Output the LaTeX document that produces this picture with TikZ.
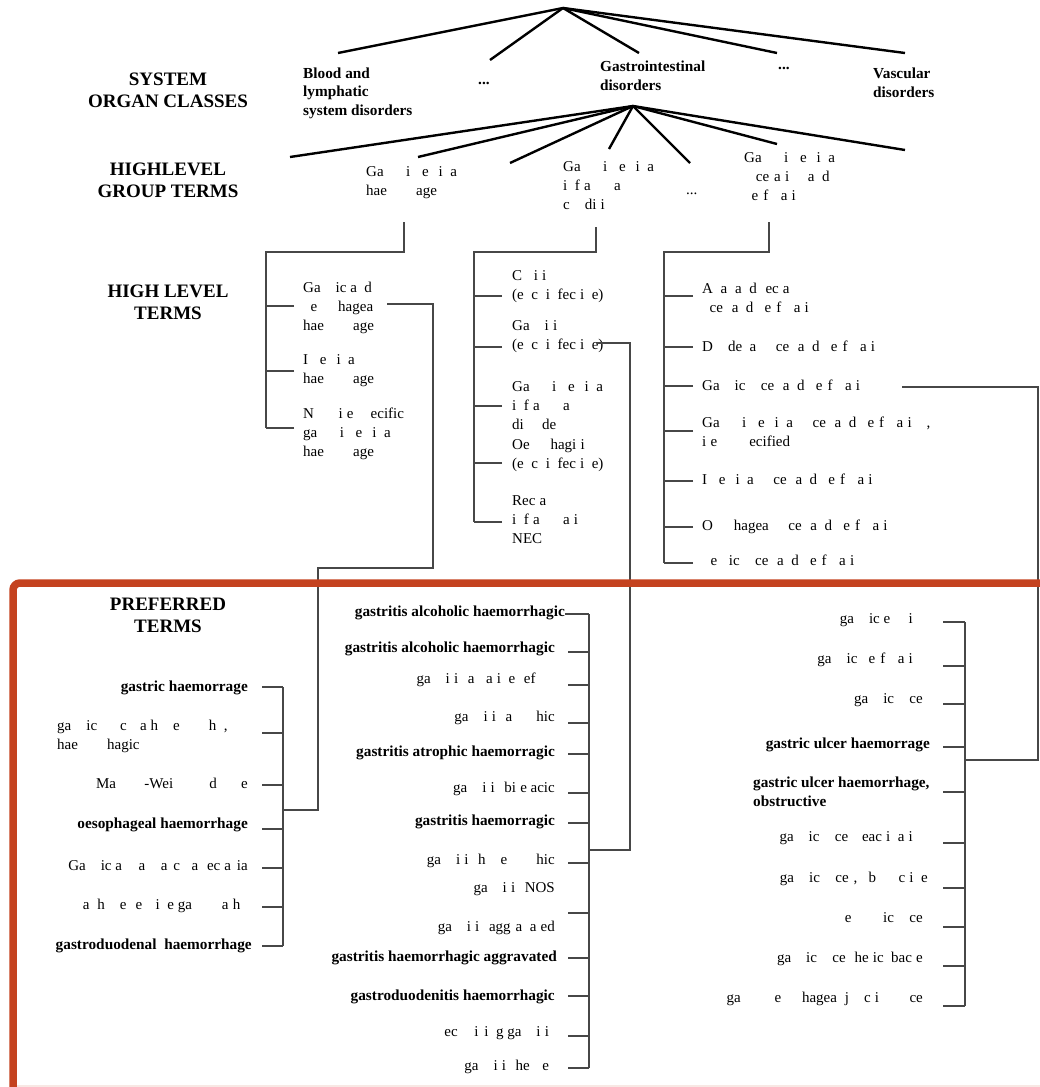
\documentclass[tikz,border=0pt]{standalone}
\usepackage{fontspec}
\setmainfont{Liberation Serif}
\usetikzlibrary{calc}

\definecolor{framered}{RGB}{196,66,31}
% letters that are left blank in a term
\newcommand\hid[1]{\phantom{#1}}

\tikzset{
  head/.style={font=\bfseries\fontsize{19}{22}\selectfont, align=center},
  soc/.style={font=\bfseries\fontsize{15.3}{18.5}\selectfont, align=left, anchor=west, inner sep=0pt},
  term/.style={font=\fontsize{15}{19}\selectfont, align=left, anchor=west, inner sep=0pt},
  pt/.style={font=\fontsize{15}{19}\selectfont, anchor=east, inner sep=0pt},
  ptb/.style={font=\bfseries\fontsize{15.3}{18}\selectfont, anchor=east, inner sep=0pt},
  fan/.style={line width=2.4pt},
  tree/.style={line width=1.1pt, draw=black!72},
}

\begin{document}
\begin{tikzpicture}[x=1pt,y=-1pt]
  \useasboundingbox (0,0) rectangle (1040,1087);

  % level headings
  \node[head] (hsoc) at (168,90) {SYSTEM\\ORGAN CLASSES};
  \node[head] (hhlgt) at (168,180) {HIGHLEVEL\\GROUP TERMS};
  \node[head] (hhlt) at (168,302) {HIGH LEVEL\\TERMS};
  \node[head] (hpt) at (168,615) {PREFERRED\\TERMS};

  % system organ classes
  \node[soc] (soc1) at (303,93) {Blood and\\lymphatic\\system disorders};
  \node[soc] (socd1) at (478,83) {...};
  \node[soc] (soc2) at (600,76) {Gastrointestinal\\disorders};
  \node[soc] (socd2) at (778,68) {...};
  \node[soc] (soc3) at (873,83) {Vascular\\disorders};

  \coordinate (top) at (563,8);
  \coordinate (so1) at (338,53);
  \coordinate (so2) at (490,60);
  \coordinate (so3) at (639,53);
  \coordinate (so4) at (777,53);
  \coordinate (so5) at (905,53);
  \foreach \c in {so1,so2,so3,so4,so5}
    \draw[fan] (top) -- (\c);

  % high level group terms
  \node[term] (g1) at (366,182) {Ga\hid{stro}i\hid{nt}e\hid{st}i\hid{n}a\hid{l}\\hae\hid{morr}age};
  \node[term] (g2) at (563,185) {Ga\hid{stro}i\hid{nt}e\hid{st}i\hid{n}a\hid{l}\\i\hid{n}f\hid{l}a\hid{mm}a\hid{tory}\\c\hid{on}di\hid{t}i\hid{ons}};
  \node[term] (gd) at (686,194) {...};
  \node[term] (g3) at (744,178) {Ga\hid{stro}i\hid{nt}e\hid{st}i\hid{n}a\hid{l}\\\hid{ul}ce\hid{r}a\hid{t}i\hid{on} a\hid{n}d\\\hid{p}e\hid{r}f\hid{or}a\hid{t}i\hid{on}};

  \coordinate (gi) at (633,106);
  \coordinate (hg1) at (290,157);
  \coordinate (hg2) at (418,157);
  \coordinate (hg3) at (510,163);
  \coordinate (hg4) at (609,149);
  \coordinate (hg5) at (690,163);
  \coordinate (hg6) at (777,144);
  \coordinate (hg7) at (905,150);
  \foreach \c in {hg1,hg2,hg3,hg4,hg5,hg6,hg7}
    \draw[fan] (gi) -- (\c);

  % high level terms
  \node[term] (h11) at (303,308) {Ga\hid{str}ic a\hid{n}d\\\hid{o}e\hid{sop}hagea\hid{l}\\hae\hid{morr}age};
  \node[term] (h12) at (303,370) {I\hid{nt}e\hid{st}i\hid{n}a\hid{l}\\hae\hid{morr}age};
  \node[term] (h13) at (303,434) {N\hid{on s}i\hid{t}e \hid{sp}ecific\\ga\hid{stro}i\hid{nt}e\hid{st}i\hid{n}a\hid{l}\\hae\hid{morr}age};

  \node[term] (h21) at (512,286) {C\hid{ol}i\hid{t}i\hid{s}\\(e\hid{x}c\hid{l} i\hid{n}fec\hid{t}i\hid{v}e)};
  \node[term] (h22) at (512,337) {Ga\hid{str}i\hid{t}i\hid{s}\\(e\hid{x}c\hid{l} i\hid{n}fec\hid{t}i\hid{v}e)};
  \node[term] (h23) at (512,405) {Ga\hid{stro}i\hid{nt}e\hid{st}i\hid{n}a\hid{l}\\i\hid{n}f\hid{l}a\hid{mm}a\hid{tory}\\di\hid{sor}de\hid{rs}};
  \node[term] (h24) at (512,455) {Oe\hid{sop}hagi\hid{t}i\hid{s}\\(e\hid{x}c\hid{l} i\hid{n}fec\hid{t}i\hid{v}e)};
  \node[term] (h25) at (512,519) {Rec\hid{t}a\hid{l}\\i\hid{n}f\hid{l}a\hid{mm}a\hid{t}i\hid{ons}\\NEC};

  \node[term] (h31) at (702,299) {A\hid{n}a\hid{l} a\hid{n}d \hid{r}ec\hid{t}a\hid{l}\\\hid{u}ce\hid{r} a\hid{n}d \hid{p}e\hid{r}f\hid{or}a\hid{t}i\hid{on}};
  \node[term] (h32) at (702,348) {D\hid{uo}de\hid{n}a\hid{l} \hid{ul}ce\hid{r} a\hid{n}d \hid{p}e\hid{r}f\hid{or}a\hid{t}i\hid{on}};
  \node[term] (h33) at (702,387) {Ga\hid{str}ic \hid{ul}ce\hid{r} a\hid{n}d \hid{p}e\hid{r}f\hid{or}a\hid{t}i\hid{on}};
  \node[term] (h34) at (702,433) {Ga\hid{stro}i\hid{nt}e\hid{st}i\hid{n}a\hid{l} \hid{ul}ce\hid{r} a\hid{n}d \hid{p}e\hid{r}f\hid{or}a\hid{t}i\hid{on},\\i\hid{t}e \hid{unsp}ecified};
  \node[term] (h35) at (702,481) {I\hid{nt}e\hid{st}i\hid{n}a\hid{l} \hid{ul}ce\hid{r} a\hid{n}d \hid{p}e\hid{r}f\hid{or}a\hid{t}i\hid{on}};
  \node[term] (h36) at (702,527) {O\hid{sop}hagea\hid{l} \hid{ul}ce\hid{r} a\hid{n}d \hid{p}e\hid{r}f\hid{or}a\hid{t}i\hid{on}};
  \node[term] (h37) at (702,562) {\hid{P}e\hid{pt}ic \hid{ul}ce\hid{r} a\hid{n}d \hid{p}e\hid{r}f\hid{or}a\hid{t}i\hid{on}};

  \draw[tree] (404,222) -- (404,252) -- (266,252) -- (266,428);
  \draw[tree] (596,227) -- (596,252) -- (474,252) -- (474,522);
  \draw[tree] (769,222) -- (769,252) -- (664,252) -- (664,563);
  \foreach \n/\d in {h11/-2,h12/1,h13/-6}
    \draw[tree] (\n.west) ++(-9,\d) -- ++(-28,0);
  \foreach \n/\d in {h21/10,h22/10,h23/1,h24/8,h25/3}
    \draw[tree] (\n.west) ++(-10,\d) -- ++(-28,0);
  \foreach \n/\d in {h31/-3,h32/-1,h33/-1,h34/-2,h35/0,h36/0,h37/1}
    \draw[tree] (\n.west) ++(-9,\d) -- ++(-29,0);

  % preferred terms
  \node[ptb] (p1) at (248,688) {gastric haemorrage};
  \node[term] (p2) at (57,736) {ga\hid{str}ic \hid{mu}c\hid{os}a h\hid{yp}e\hid{rtrop}h\hid{y},\\hae\hid{morr}hagic};
  \node[pt] (p3) at (248,785) {Ma\hid{llory}-Wei\hid{ss} \hid{syn}d\hid{rom}e};
  \node[ptb] (p4) at (248,825) {oesophageal haemorrhage};
  \node[pt] (p5) at (248,865) {Ga\hid{str}ic a\hid{ntr}a\hid{l} \hid{v}a\hid{s}c\hid{ul}a\hid{r} ec\hid{t}a\hid{s}ia};
  \node[pt] (p6) at (248,906) {\hid{Port}a\hid{l} h\hid{yp}e\hid{rt}e\hid{ns}i\hid{v}e ga\hid{strop}a\hid{t}h\hid{y}};
  \node[ptb] (p7) at (252,946) {gastroduodenal~ haemorrhage};

  \node[ptb] (m1) at (565,613) {gastritis alcoholic haemorrhagic};
  \node[ptb] (m2) at (555,649) {gastritis alcoholic haemorrhagic};
  \node[pt] (m3) at (555,680) {ga\hid{str}i\hid{t}i\hid{s} a\hid{lk}a\hid{l}i\hid{n}e \hid{r}ef\hid{lux}};
  \node[pt] (m4) at (555,718) {ga\hid{str}i\hid{t}i\hid{s} a\hid{trop}hic};
  \node[ptb] (m5) at (555,753) {gastritis atrophic haemorragic};
  \node[pt] (m6) at (555,789) {ga\hid{str}i\hid{t}i\hid{s} bi\hid{l}e acic};
  \node[ptb] (m7) at (555,822) {gastritis haemorragic};
  \node[pt] (m8) at (555,861) {ga\hid{str}i\hid{t}i\hid{s} h\hid{yp}e\hid{rtrop}hic};
  \node[pt] (m9) at (555,889) {ga\hid{str}i\hid{t}i\hid{s} NOS};
  \node[pt] (m10) at (555,928) {ga\hid{str}i\hid{t}i\hid{s} agg\hid{r}a\hid{v}a\hid{t}ed};
  \node[ptb] (m11) at (557,958) {gastritis haemorrhagic aggravated};
  \node[ptb] (m12) at (555,997) {gastroduodenitis haemorrhagic};
  \node[pt] (m13) at (555,1033) {\hid{n}ec\hid{rot}i\hid{s}i\hid{n}g ga\hid{str}i\hid{t}i\hid{s}};
  \node[pt] (m14) at (555,1067) {ga\hid{str}i\hid{t}i\hid{s} he\hid{rp}e\hid{s}};

  \node[pt] (r1) at (928,620) {ga\hid{str}ic e\hid{ros}i\hid{on}};
  \node[pt] (r2) at (928,660) {ga\hid{str}ic \hid{p}e\hid{r}f\hid{or}a\hid{t}i\hid{on}};
  \node[pt] (r3) at (928,700) {ga\hid{str}ic \hid{ul}ce\hid{r}};
  \node[ptb] (r4) at (930,745) {gastric ulcer haemorrage};
  \node[soc] (r5) at (753,792) {gastric ulcer haemorrhage,\\obstructive};
  \node[pt] (r6) at (928,838) {ga\hid{str}ic \hid{ul}ce\hid{r} \hid{r}eac\hid{t}i\hid{v}a\hid{t}i\hid{on}};
  \node[pt] (r7) at (928,879) {ga\hid{str}ic \hid{ul}ce\hid{r}, \hid{o}b\hid{stru}c\hid{t}i\hid{v}e};
  \node[pt] (r8) at (928,919) {\hid{pr}e\hid{pylor}ic \hid{ul}ce\hid{r}};
  \node[pt] (r9) at (928,959) {ga\hid{str}ic \hid{ul}ce\hid{r} he\hid{l}ic\hid{o}bac\hid{t}e\hid{r}};
  \node[pt] (r10) at (928,999) {ga\hid{stro o}e\hid{sop}hagea\hid{l} j\hid{un}c\hid{t}i\hid{on} \hid{ul}ce\hid{r}};

  \coordinate (pl) at (283,0);
  \coordinate (pr) at (965,0);
  \draw[tree] (283,687) -- (283,946);
  \draw[tree] (589,614) -- (589,1068);
  \draw[tree] (965,622) -- (965,1006);
  \foreach \n/\d in {p1/-1,p3/0,p4/4,p5/3,p6/1}
    \draw[tree] (\n.east) ++(14,\d) -- ++(21,0);
  \draw[tree] (p7.east) ++(10,0) -- ++(21,0);
  \draw[tree] (p2.west -| pl) ++(0,-3) -- ++(-21,0);
  \draw[tree] (m1.east) ++(0,1) -- ++(24,0);
  \foreach \n/\d in {m2/3,m3/5,m4/5,m5/1,m6/4,m7/1,m8/2,m12/-1,m13/3,m14/1}
    \draw[tree] (\n.east) ++(13,\d) -- ++(21,0);
  \draw[tree] (m11.east) ++(11,0) -- ++(21,0);
  \draw[tree] ($(m9.east)!.5!(m10.east)$) ++(13,4.5) -- ++(21,0);
  \foreach \n/\d in {r1/2,r2/6,r3/4,r6/5,r7/9,r8/8,r9/7,r10/7}
    \draw[tree] (\n.east) ++(15,\d) -- ++(22,0);
  \draw[tree] (r4.east) ++(13,2) -- ++(22,0);
  \draw[tree] (r5.west -| pr) -- ++(-22,0);

  % high level terms linked down to their preferred terms
  \draw[tree] (387,304) -- (433,304) -- (433,568) -- (318,568) -- (318,810) -- (283,810);
  \draw[tree] (597,343) -- (630,343) -- (630,850) -- (589,850);
  \draw[tree] (902,387) -- (1038,387) -- (1038,760) -- (965,760);

  % frame round the preferred terms
  \draw[line width=7.5pt, framered, rounded corners=7pt] (1046,583) -- (13,583) -- (13,1092);
  \draw[line width=2pt, framered!12] (17,1086) -- (1040,1086);
\end{tikzpicture}
\end{document}
